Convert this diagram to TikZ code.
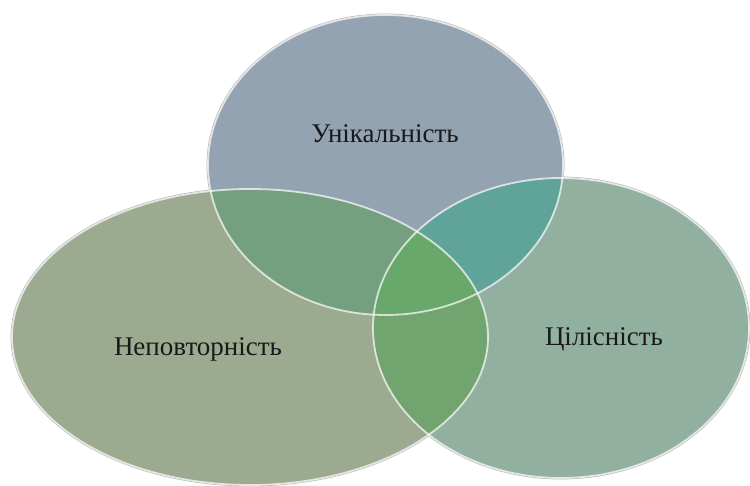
\documentclass[tikz,border=0pt]{standalone}
\usepackage{fontspec}
\setmainfont{Liberation Serif}
\definecolor{cTop}{HTML}{93A3B1}
\definecolor{cLeft}{HTML}{9CAA8F}
\definecolor{cRight}{HTML}{92B0A0}
\definecolor{cTL}{HTML}{74A07F}
\definecolor{cTR}{HTML}{60A398}
\definecolor{cLR}{HTML}{72A470}
\definecolor{cAll}{HTML}{69A86B}
\tikzset{
  lbl/.style={font=\fontsize{27}{31}\selectfont, text=black!90, inner sep=0pt},
  halo/.style={draw=black!30, line width=2.8pt},
  rim/.style={draw=white, line width=1.8pt, draw opacity=0.7},
}
\begin{document}
\begin{tikzpicture}[x=1pt,y=-1pt]
\useasboundingbox (0,0) rectangle (750,486);
\fill[white] (0,0) rectangle (750,486);
\coordinate (T) at (385.5,165);
\coordinate (L) at (250,337);
\coordinate (R) at (561,328);
\def\topE{(T) ellipse [x radius=177.5pt, y radius=150pt]}
\def\leftE{(L) ellipse [x radius=238pt, y radius=148pt]}
\def\rightE{(R) ellipse [x radius=188pt, y radius=150pt]}
% outer gray halos
\path[halo] \topE;
\path[halo] \leftE;
\path[halo] \rightE;
% fills
\fill[cTop] \topE;
\fill[cLeft] \leftE;
\fill[cRight] \rightE;
% pairwise overlaps
\begin{scope}\clip \topE; \fill[cTL] \leftE; \end{scope}
\begin{scope}\clip \topE; \fill[cTR] \rightE; \end{scope}
\begin{scope}\clip \leftE; \fill[cLR] \rightE; \end{scope}
\begin{scope}\clip \topE; \clip \leftE; \fill[cAll] \rightE; \end{scope}
% rims
\path[rim] \topE;
\path[rim] \leftE;
\path[rim] \rightE;
% labels
\node[lbl] (tU) at (385,134) {Унікальність};
\node[lbl] (tN) at (198,349) {Неповторність};
\node[lbl] (tC) at (604,339) {Цілісність};
\end{tikzpicture}
\end{document}
